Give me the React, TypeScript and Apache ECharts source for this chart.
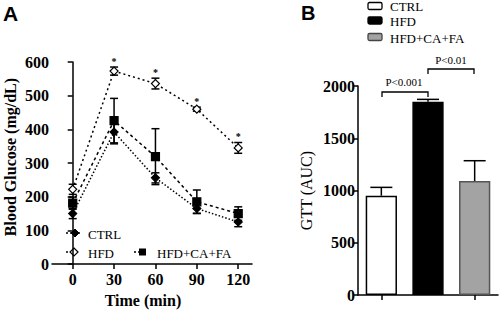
import React, { useEffect, useRef } from "react";
import * as echarts from "echarts";

// Panel A: glucose tolerance test time course
const timePoints = [0, 30, 60, 90, 120];
const ctrlMean = [150, 392, 256, 165, 125];
const ctrlErr = [15, 35, 15, 14, 14];
const hfdMean = [222, 573, 536, 460, 345];
const hfdErr = [15, 12, 16, 6, 16];
const hfdSig = [false, true, true, true, true];
const comboMean = [181, 426, 319, 185, 150];
const comboErr = [18, 66, 83, 35, 20];

// Panel B: GTT area under curve
const groups = ["CTRL", "HFD", "HFD+CA+FA"];
const gttMean = [950, 1850, 1090];
const gttErr = [80, 22, 195];
const groupColors = ["#ffffff", "#000000", "#a3a3a3"];
const pLabels = ["P<0.001", "P<0.01"];

const SERIF = "'Liberation Serif', 'Times New Roman', serif";
const SANS = "'Liberation Sans', Arial, sans-serif";

function errData(xs: (number | string)[], mean: number[], err: number[], sig?: boolean[]) {
  return xs.map((x, i) => [typeof x === "number" ? x : i, mean[i] - err[i], mean[i] + err[i], sig && sig[i] ? 1 : 0]);
}

function makeErrRender(oneSided: boolean, cap: number) {
  return (params: any, api: any) => {
    const x = api.value(0);
    const lo = api.value(1);
    const hi = api.value(2);
    const sig = api.value(3);
    const mid = (lo + hi) / 2;
    const pHi = api.coord([x, hi]);
    const pLo = api.coord([x, oneSided ? mid : lo]);
    const style = { stroke: "#000", lineWidth: 1.5 };
    const children: any[] = [
      { type: "line", shape: { x1: pHi[0], y1: pHi[1], x2: pLo[0], y2: pLo[1] }, style },
      { type: "line", shape: { x1: pHi[0] - cap, y1: pHi[1], x2: pHi[0] + cap, y2: pHi[1] }, style },
    ];
    if (!oneSided) {
      children.push({ type: "line", shape: { x1: pLo[0] - cap, y1: pLo[1], x2: pLo[0] + cap, y2: pLo[1] }, style });
    }
    if (sig) {
      children.push({
        type: "text",
        style: { text: "*", x: pHi[0], y: pHi[1] - 1, align: "center", verticalAlign: "bottom", font: `bold 10px ${SERIF}`, fill: "#000" },
      });
    }
    return { type: "group", children };
  };
}

export default function App() {
  const ref = useRef<HTMLDivElement>(null);
  useEffect(() => {
    document.body.style.margin = "0";
    const chart = echarts.init(ref.current!, null, { renderer: "svg" });
    const axisLine = { lineStyle: { color: "#000", width: 1.5 } };
    const tickLine = { color: "#000", width: 1.5 };
    const tickLabel = { color: "#000", fontFamily: SERIF, fontWeight: "bold", fontSize: 16 };
    const lineSeries = (name: string, data: number[], symbol: string, fill: string, dash: number[]) => ({
      type: "line",
      name,
      xAxisIndex: 0,
      yAxisIndex: 0,
      data: timePoints.map((t, i) => [t, data[i]]),
      symbol,
      symbolSize: 8,
      itemStyle: { color: fill, borderColor: "#000", borderWidth: 1.2 },
      lineStyle: { color: "#000", width: 1.5, type: dash },
      z: 3,
    });

    const legendLine = (x1: number, x2: number, y: number) => ({
      type: "line",
      shape: { x1, y1: y, x2, y2: y },
      style: { stroke: "#000", lineWidth: 1.5, lineDash: [2, 2] },
    });
    const legendText = (text: string, x: number, y: number, size = 13) => ({
      type: "text",
      style: { text, x, y, verticalAlign: "middle", font: `${size}px ${SERIF}`, fill: "#000" },
    });

    chart.setOption({
      animation: false,
      backgroundColor: "#fff",
      grid: [
        { left: 52, top: 62, width: 200, height: 206 },
        { left: 358, top: 86, width: 140, height: 209 },
      ],
      xAxis: [
        {
          gridIndex: 0,
          type: "value",
          min: -15,
          max: 130,
          splitLine: { show: false },
          axisLine,
          axisTick: { show: true, length: 5, customValues: timePoints, lineStyle: tickLine },
          axisLabel: { ...tickLabel, customValues: timePoints, margin: 7 },
          name: "Time (min)",
          nameLocation: "middle",
          nameGap: 24,
          nameTextStyle: { color: "#000", fontFamily: SERIF, fontWeight: "bold", fontSize: 16, padding: [0, 18, 0, 0] },
        },
        {
          gridIndex: 1,
          type: "category",
          data: groups,
          axisLine,
          axisTick: { show: true, alignWithLabel: true, length: 5, lineStyle: tickLine },
          axisLabel: { show: false },
        },
      ],
      yAxis: [
        {
          gridIndex: 0,
          type: "value",
          min: 0,
          max: 600,
          interval: 100,
          splitLine: { show: false },
          axisLine: { show: true, ...axisLine },
          axisTick: { show: true, length: 5, lineStyle: tickLine },
          axisLabel: { ...tickLabel, margin: 3, formatter: (v: number) => String(v) },
          name: "Blood Glucose (mg/dL)",
          nameLocation: "middle",
          nameGap: 34,
          nameTextStyle: { color: "#000", fontFamily: SERIF, fontWeight: "bold", fontSize: 16, padding: [0, 0, 0, 12] },
        },
        {
          gridIndex: 1,
          type: "value",
          min: 0,
          max: 2000,
          interval: 500,
          splitLine: { show: false },
          axisLine: { show: true, ...axisLine },
          axisTick: { show: true, length: 5, lineStyle: tickLine },
          axisLabel: { ...tickLabel, margin: 3, formatter: (v: number) => String(v) },
          name: "GTT (AUC)",
          nameLocation: "middle",
          nameGap: 44,
          nameTextStyle: { color: "#000", fontFamily: SERIF, fontSize: 16 },
        },
      ],
      series: [
        lineSeries("CTRL", ctrlMean, "diamond", "#000", [1.5, 2]),
        lineSeries("HFD", hfdMean, "diamond", "#fff", [2, 3]),
        lineSeries("HFD+CA+FA", comboMean, "rect", "#000", [3, 3]),
        {
          type: "custom",
          xAxisIndex: 0,
          yAxisIndex: 0,
          renderItem: makeErrRender(false, 4),
          data: errData(timePoints, ctrlMean, ctrlErr),
          z: 2,
          clip: false,
        },
        {
          type: "custom",
          xAxisIndex: 0,
          yAxisIndex: 0,
          renderItem: makeErrRender(false, 4),
          data: errData(timePoints, hfdMean, hfdErr, hfdSig),
          z: 2,
          clip: false,
        },
        {
          type: "custom",
          xAxisIndex: 0,
          yAxisIndex: 0,
          renderItem: makeErrRender(false, 4),
          data: errData(timePoints, comboMean, comboErr),
          z: 2,
          clip: false,
        },
        {
          type: "bar",
          xAxisIndex: 1,
          yAxisIndex: 1,
          barWidth: "67%",
          data: gttMean.map((v, i) => ({
            value: v,
            itemStyle: { color: groupColors[i], borderColor: i === 2 ? "#555" : "#000", borderWidth: 1.5 },
          })),
          z: 2,
        },
        {
          type: "custom",
          xAxisIndex: 1,
          yAxisIndex: 1,
          renderItem: makeErrRender(true, 11),
          data: errData(groups, gttMean, gttErr),
          z: 1,
          clip: false,
        },
      ],
      graphic: [
        { type: "text", style: { text: "A", x: 3, y: 3, font: `bold 21px ${SANS}`, fill: "#000" } },
        { type: "text", style: { text: "B", x: 301, y: 3, font: `bold 20px ${SANS}`, fill: "#000" } },
        // Panel A legend
        legendLine(66, 80, 233),
        { type: "polygon", shape: { points: [[75, 229], [79, 233], [75, 237], [71, 233]] }, style: { fill: "#000", stroke: "#000", lineWidth: 1 } },
        legendText("CTRL", 88, 234),
        legendLine(66, 70, 252),
        { type: "polygon", shape: { points: [[74, 248], [78, 252], [74, 256], [70, 252]] }, style: { fill: "#fff", stroke: "#000", lineWidth: 1.2 } },
        legendText("HFD", 88, 253),
        legendLine(134, 146, 252),
        { type: "rect", shape: { x: 139, y: 248.5, width: 7, height: 7 }, style: { fill: "#000" } },
        legendText("HFD+CA+FA", 157, 253),
        // Panel B legend
        ...groups.map((g, i) => ({
          type: "group",
          children: [
            {
              type: "rect",
              shape: { x: 368, y: [2.5, 17, 33.5][i], width: 14, height: 7, r: 1.5 },
              style: { fill: groupColors[i], stroke: i === 2 ? "#444" : "#000", lineWidth: 1.3 },
            },
            legendText(g, 390, [6.5, 21.5, 38][i]),
          ],
        })),
        // Significance brackets
        { type: "polyline", shape: { points: [[382, 97], [382, 92], [428, 92], [428, 97]] }, style: { stroke: "#000", lineWidth: 1.3, fill: null } },
        { type: "text", style: { text: pLabels[0], x: 404, y: 82, align: "center", verticalAlign: "middle", font: `11px ${SERIF}`, fill: "#000" } },
        { type: "polyline", shape: { points: [[428, 74], [428, 69], [474, 69], [474, 74]] }, style: { stroke: "#000", lineWidth: 1.3, fill: null } },
        { type: "text", style: { text: pLabels[1], x: 451, y: 60, align: "center", verticalAlign: "middle", font: `11px ${SERIF}`, fill: "#000" } },
      ],
    });
    return () => chart.dispose();
  }, []);
  return <div ref={ref} style={{ position: "fixed", left: 0, top: 0, width: 500, height: 313 }} />;
}
